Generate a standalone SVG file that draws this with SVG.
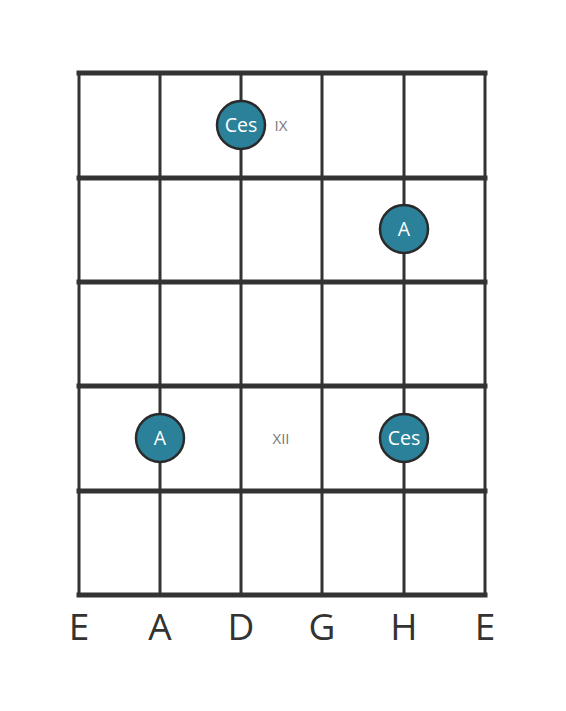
<svg xmlns="http://www.w3.org/2000/svg" width="566" height="711" viewBox="0 0 566 711">
<style>
.fret{stroke:#333;stroke-width:5;stroke-linecap:square}
.str{stroke:#333;stroke-width:3}
.dot{fill:#2a8199;stroke:#2a2a2a;stroke-width:2.5}
.dt{fill:#fff;font-family:"Open Sans",sans-serif;font-size:19.5px;text-anchor:middle;dominant-baseline:central}
.rn{fill:#777;font-family:"Open Sans",sans-serif;font-size:15px;text-anchor:middle;dominant-baseline:central}
.sn{fill:#333;font-family:"Open Sans",sans-serif;font-size:37px;text-anchor:middle}
</style>
<rect width="566" height="711" fill="#fff"/>
<g id="grid">
<line class="str" x1="79" y1="73" x2="79" y2="595"/>
<line class="str" x1="160" y1="73" x2="160" y2="595"/>
<line class="str" x1="241" y1="73" x2="241" y2="595"/>
<line class="str" x1="322" y1="73" x2="322" y2="595"/>
<line class="str" x1="404" y1="73" x2="404" y2="595"/>
<line class="str" x1="485" y1="73" x2="485" y2="595"/>
<line class="fret" x1="79" y1="73" x2="485" y2="73"/>
<line class="fret" x1="79" y1="178" x2="485" y2="178"/>
<line class="fret" x1="79" y1="282" x2="485" y2="282"/>
<line class="fret" x1="79" y1="386" x2="485" y2="386"/>
<line class="fret" x1="79" y1="491" x2="485" y2="491"/>
<line class="fret" x1="79" y1="595" x2="485" y2="595"/>
</g>
<g id="labels">
<text class="rn" x="281" y="125">IX</text>
<text class="rn" x="281" y="438">XII</text>
<text class="sn" x="79" y="640">E</text>
<text class="sn" x="160" y="640">A</text>
<text class="sn" x="241" y="640">D</text>
<text class="sn" x="322" y="640">G</text>
<text class="sn" x="404" y="640">H</text>
<text class="sn" x="485" y="640">E</text>
</g>
<g id="n1"><circle class="dot" cx="241" cy="125" r="24"/><text class="dt" x="241" y="124">Ces</text></g>
<g id="n2"><circle class="dot" cx="404" cy="229" r="24"/><text class="dt" x="404" y="228">A</text></g>
<g id="n3"><circle class="dot" cx="160" cy="438" r="24"/><text class="dt" x="160" y="437">A</text></g>
<g id="n4"><circle class="dot" cx="404" cy="438" r="24"/><text class="dt" x="404" y="437">Ces</text></g>
<g id="connectors"/>
</svg>
